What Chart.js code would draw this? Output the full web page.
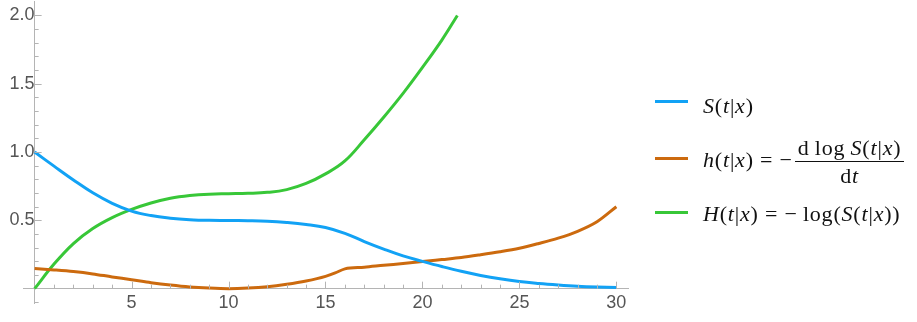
<!DOCTYPE html>
<html>
<head>
<meta charset="utf-8">
<script src="https://cdn.jsdelivr.net/npm/chart.js@4"></script>
<style>
  html, body { margin: 0; padding: 0; background: #fff; overflow: hidden; }
  #wrap { position: relative; width: 917px; height: 322px; overflow: hidden; }
  #plot { position: absolute; left: 0; top: -15px; }
  .sw { position: absolute; left: 655px; width: 33px; height: 3px; }
  .lab { position: absolute; left: 703px; font-family: "Liberation Serif", serif; font-size: 22px;
         letter-spacing: 0.8px; color: #111; white-space: nowrap; line-height: 1; }
  .frac { display: inline-block; vertical-align: middle; text-align: center; margin-left: 2px; }
  .num { display: block; border-bottom: 1px solid #111; padding: 0 3px 2px 3px; }
  .den { display: block; padding-top: 3px; }
</style>
</head>
<body>
<div id="wrap">
  <canvas id="plot" width="917" height="337"></canvas>
  <div class="sw" style="top:100px;background:#12a2f5"></div>
  <div class="lab" style="top:95px"><i>S</i>(<i>t</i>|<i>x</i>)</div>
  <div class="sw" style="top:157px;background:#cc6a0e"></div>
  <div class="lab" style="top:137px"><i>h</i>(<i>t</i>|<i>x</i>) = −<span class="frac"><span class="num">d&thinsp;log&thinsp;<i>S</i>(<i>t</i>|<i>x</i>)</span><span class="den">d<i>t</i></span></span></div>
  <div class="sw" style="top:211px;background:#38c738"></div>
  <div class="lab" style="top:203px"><i>H</i>(<i>t</i>|<i>x</i>) = −&thinsp;log(<i>S</i>(<i>t</i>|<i>x</i>))</div>
</div>
<script>
// survival S(t|x)
const survT = [0,1,2,3,4,5,6,7,8,9,10,11,12,13,14,15,16,17,18,19,20,21,22,23,24,25,26,27,28,29,30];
const survV = [1.0,0.897,0.796,0.702,0.625,0.568,0.535,0.516,0.505,0.5,0.499,0.497,0.493,0.484,0.47,0.448,0.405,0.345,0.29,0.24,0.2,0.162,0.127,0.097,0.072,0.052,0.038,0.027,0.018,0.012,0.008];
// hazard h(t|x)
const hazT = [0,1,2,3,4,5,6,7,8,9,10,11,12,13,14,15,15.5,16,17,18,19,20,21,22,23,24,25,26,27,28,29,30];
const hazV = [0.147,0.137,0.125,0.108,0.086,0.066,0.044,0.026,0.012,0.004,0.0,0.004,0.014,0.032,0.056,0.09,0.115,0.145,0.157,0.171,0.184,0.198,0.213,0.228,0.248,0.27,0.296,0.331,0.37,0.42,0.49,0.6];
// cumulative hazard H(t|x)
const cumT = [0,1,2,3,4,5,6,7,8,9,10,11,12,13,14,15,16,17,18,19,20,21,21.8];
const cumV = [0,0.18,0.33,0.44,0.52,0.58,0.627,0.662,0.682,0.692,0.695,0.698,0.705,0.725,0.77,0.84,0.935,1.09,1.255,1.43,1.62,1.82,2.0];

const xTicks = [5,10,15,20,25,30];
const yTicks = [0.5,1.0,1.5,2.0];

const pts = (t, v) => t.map((x, i) => ({x: x, y: v[i]}));

const tickMarks = {
  id: 'tickMarks',
  afterDraw(chart) {
    const c = chart.ctx, xs = chart.scales.x, ys = chart.scales.y;
    const x0 = xs.getPixelForValue(0), y0 = ys.getPixelForValue(0);
    c.save();
    c.strokeStyle = '#b4b4b4';
    c.lineWidth = 1;
    c.beginPath();
    for (let t = 1; t <= 30; t++) {
      const px = Math.round(xs.getPixelForValue(t)) + 0.5;
      const len = t % 5 === 0 ? 7 : 4;
      c.moveTo(px, y0); c.lineTo(px, y0 - len);
    }
    for (let k = -1; k <= 20; k++) {
      if (k === 0) continue;
      const py = Math.round(ys.getPixelForValue(k / 10)) + 0.5;
      const len = k % 5 === 0 ? 7 : 4;
      c.moveTo(x0, py); c.lineTo(x0 + len, py);
    }
    c.stroke();
    c.restore();
  }
};

new Chart(document.getElementById('plot'), {
  type: 'line',
  data: {
    datasets: [
      { data: pts(survT, survV), borderColor: '#12a2f5', tension: 0.4 },
      { data: pts(hazT, hazV), borderColor: '#cc6a0e', cubicInterpolationMode: 'monotone' },
      { data: pts(cumT, cumV), borderColor: '#38c738', tension: 0.4 }
    ]
  },
  options: {
    responsive: false,
    animation: false,
    layout: { padding: { left: 23, right: 289, top: 2, bottom: 19 } },
    elements: {
      point: { radius: 0 },
      line: { borderWidth: 3, fill: false }
    },
    plugins: { legend: { display: false }, tooltip: { enabled: false } },
    scales: {
      x: {
        type: 'linear', min: -0.6, max: 30.6,
        position: { y: 0 },
        afterBuildTicks: s => { s.ticks = xTicks.map(v => ({value: v})); },
        grid: { display: false, drawTicks: false },
        border: { display: true, color: '#b4b4b4', width: 1 },
        ticks: { color: '#555', padding: 4, maxRotation: 0, autoSkip: false,
                 font: { family: 'Liberation Sans', size: 18 } }
      },
      y: {
        type: 'linear', min: -0.105, max: 2.1,
        position: { x: 0 },
        afterBuildTicks: s => { s.ticks = yTicks.map(v => ({value: v})); },
        grid: { display: false, drawTicks: false },
        border: { display: true, color: '#b4b4b4', width: 1 },
        ticks: { color: '#555', padding: 6, autoSkip: false,
                 callback: v => v.toFixed(1),
                 font: { family: 'Liberation Sans', size: 18 } }
      }
    }
  },
  plugins: [tickMarks]
});
</script>
</body>
</html>
